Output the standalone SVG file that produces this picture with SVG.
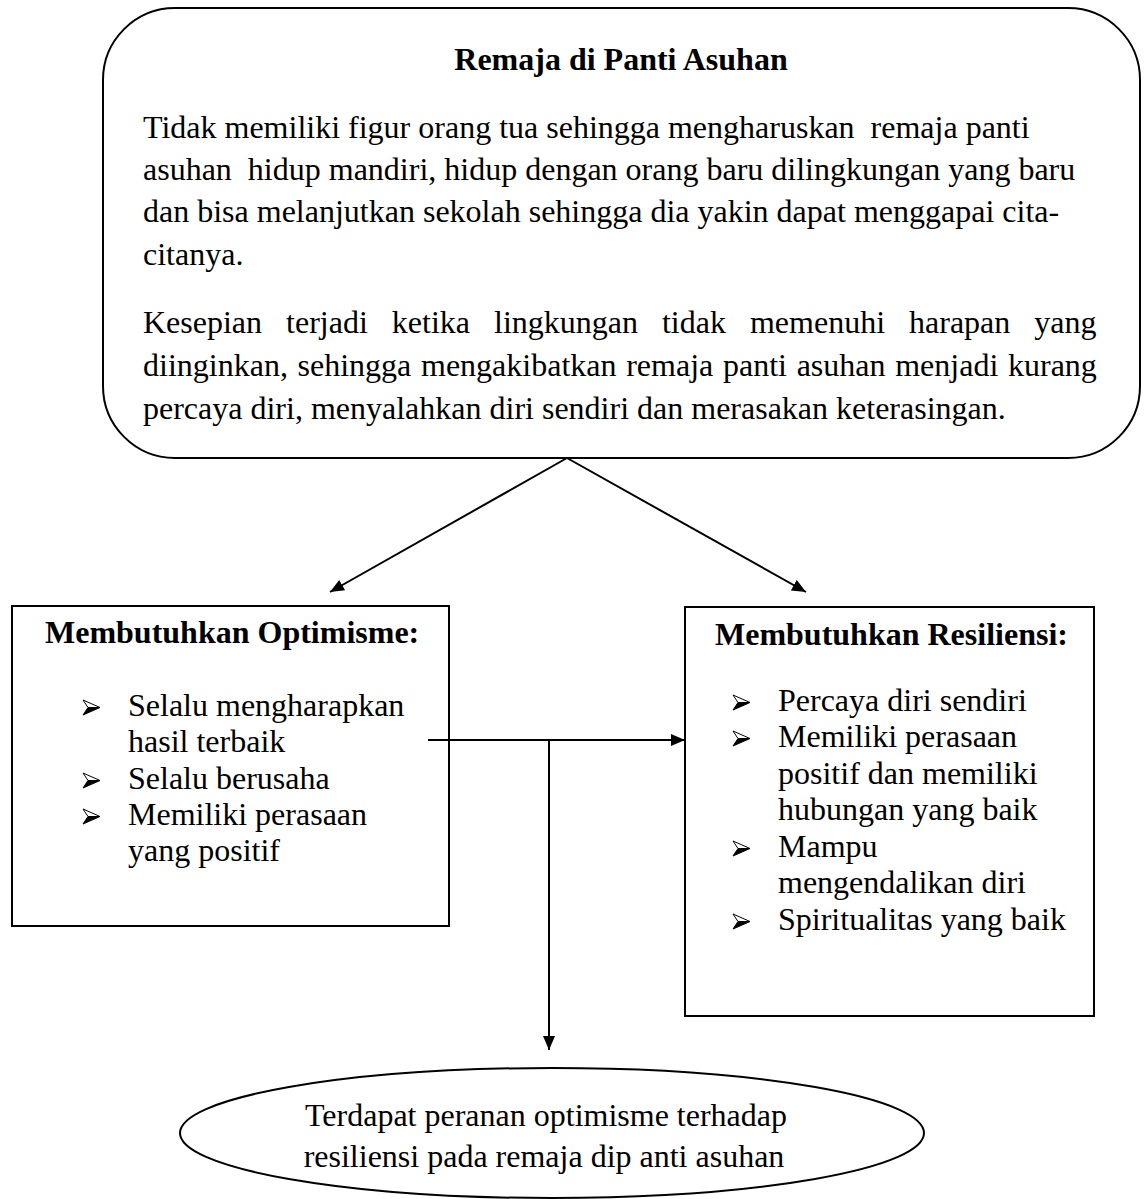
<svg xmlns="http://www.w3.org/2000/svg" width="1145" height="1199" viewBox="0 0 1145 1199">
<style>
  .t { font-family: "Liberation Serif", "Times New Roman", serif; font-size: 32px; fill: #000; }
  .b { font-weight: bold; }
  .box { fill: #fff; stroke: #000; stroke-width: 2; }
  .con { fill: none; stroke: #000; stroke-width: 2; }
</style>
<defs>
  <marker id="ah" markerUnits="userSpaceOnUse" markerWidth="16" markerHeight="14" refX="14" refY="6" orient="auto">
    <path d="M0,0 L14,6 L0,12 Z" fill="#000"/>
  </marker>
  <g id="bullet">
    <path d="M0,-15 L17,-7.5 L5,-7.5 Z" fill="#fff" stroke="#000" stroke-width="1" stroke-linejoin="round"/>
    <path d="M5,-7.5 L17,-7.5 L0,0 Z" fill="#000" stroke="#000" stroke-width="1" stroke-linejoin="round"/>
  </g>
</defs>
<rect width="1145" height="1199" fill="#fff"/>

<g id="top-node">
  <rect class="box" x="103" y="8" width="1037" height="450" rx="72" ry="72"/>
  <text class="t b" x="621" y="70" text-anchor="middle">Remaja di Panti Asuhan</text>
  <text class="t" x="143" y="138" xml:space="preserve">Tidak memiliki figur orang tua sehingga mengharuskan  remaja panti</text>
  <text class="t" x="143" y="180" xml:space="preserve">asuhan  hidup mandiri, hidup dengan orang baru dilingkungan yang baru</text>
  <text class="t" x="143" y="222">dan bisa melanjutkan sekolah sehingga dia yakin dapat menggapai cita-</text>
  <text class="t" x="143" y="265">citanya.</text>
  <text class="t" x="143" y="333" word-spacing="16">Kesepian terjadi ketika lingkungan tidak memenuhi harapan yang</text>
  <text class="t" x="143" y="376" word-spacing="1.7">diinginkan, sehingga mengakibatkan remaja panti asuhan menjadi kurang</text>
  <text class="t" x="143" y="419">percaya diri, menyalahkan diri sendiri dan merasakan keterasingan.</text>
</g>

<g id="optimisme-node">
  <rect class="box" x="12" y="606" width="437" height="320"/>
  <text class="t b" x="45" y="643">Membutuhkan Optimisme:</text>
  <use href="#bullet" x="83" y="715"/>
  <text class="t" x="128" y="716">Selalu mengharapkan</text>
  <text class="t" x="128" y="752">hasil terbaik</text>
  <use href="#bullet" x="83" y="788"/>
  <text class="t" x="128" y="789">Selalu berusaha</text>
  <use href="#bullet" x="83" y="824"/>
  <text class="t" x="128" y="825">Memiliki perasaan</text>
  <text class="t" x="128" y="861">yang positif</text>
</g>

<g id="resiliensi-node">
  <rect class="box" x="685" y="607" width="409" height="409"/>
  <text class="t b" x="715" y="645">Membutuhkan Resiliensi:</text>
  <use href="#bullet" x="733" y="710"/>
  <text class="t" x="778" y="711">Percaya diri sendiri</text>
  <use href="#bullet" x="733" y="746"/>
  <text class="t" x="778" y="747">Memiliki perasaan</text>
  <text class="t" x="778" y="784">positif dan memiliki</text>
  <text class="t" x="778" y="820">hubungan yang baik</text>
  <use href="#bullet" x="733" y="856"/>
  <text class="t" x="778" y="857">Mampu</text>
  <text class="t" x="778" y="893">mengendalikan diri</text>
  <use href="#bullet" x="733" y="929"/>
  <text class="t" x="778" y="930">Spiritualitas yang baik</text>
</g>

<g id="hasil-node">
  <ellipse class="box" cx="552" cy="1133" rx="372" ry="65"/>
  <text class="t" x="546" y="1126" text-anchor="middle">Terdapat peranan optimisme terhadap</text>
  <text class="t" x="544" y="1167" text-anchor="middle">resiliensi pada remaja dip anti asuhan</text>
</g>

<g id="connectors">
  <line class="con" x1="567" y1="458" x2="330" y2="592" marker-end="url(#ah)"/>
  <line class="con" x1="567" y1="458" x2="806" y2="592" marker-end="url(#ah)"/>
  <line class="con" x1="428" y1="740" x2="685" y2="740" marker-end="url(#ah)"/>
  <line class="con" x1="549" y1="740" x2="549" y2="1050" marker-end="url(#ah)"/>
</g>
</svg>
